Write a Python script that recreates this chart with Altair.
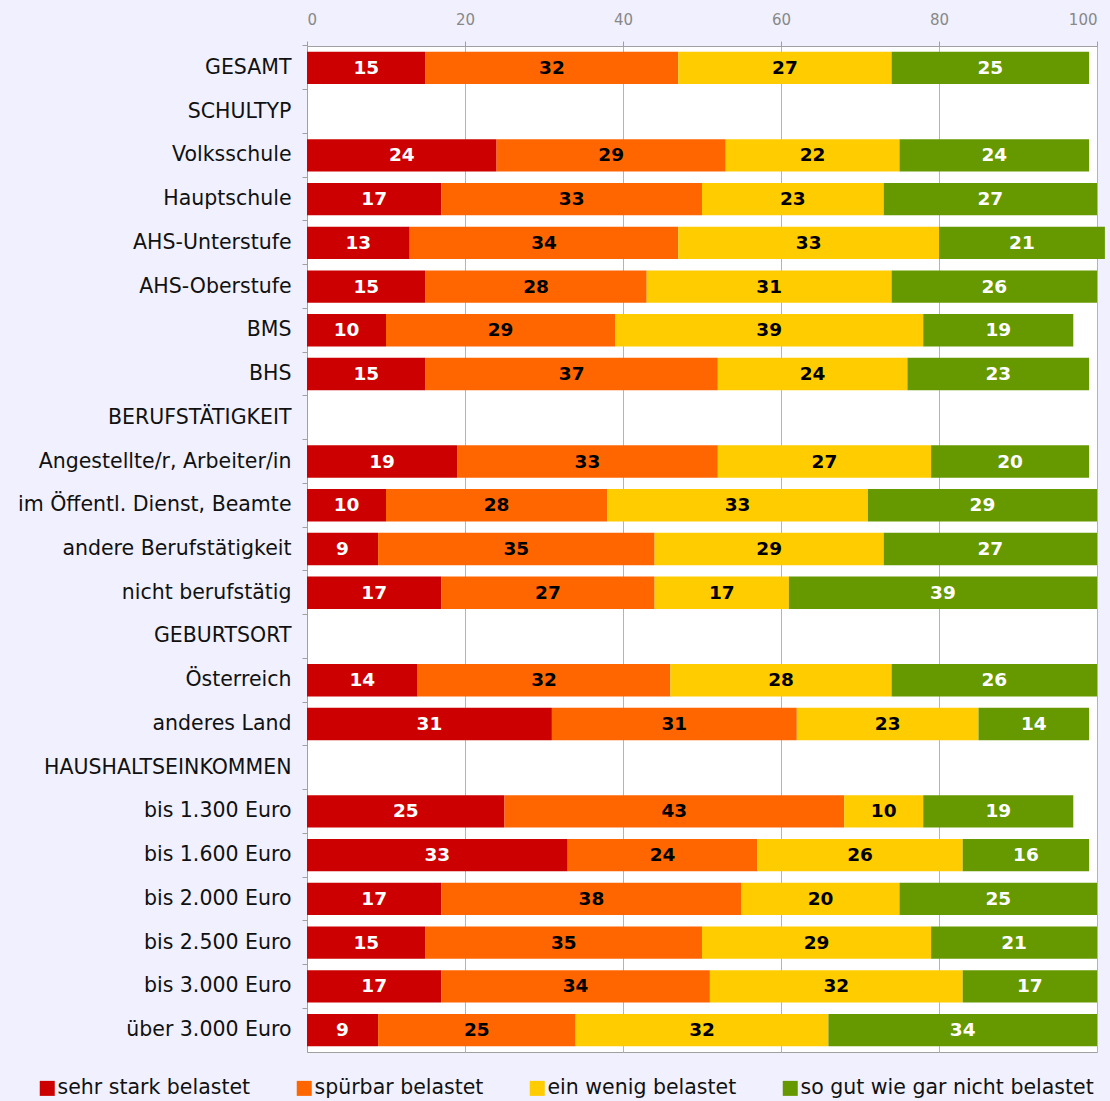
import altair as alt
import pandas as pd
import jinja2

categories = [
    "GESAMT", "SCHULTYP", "Volksschule", "Hauptschule", "AHS-Unterstufe",
    "AHS-Oberstufe", "BMS", "BHS", "BERUFSTÄTIGKEIT",
    "Angestellte/r, Arbeiter/in", "im Öffentl. Dienst, Beamte",
    "andere Berufstätigkeit", "nicht berufstätig", "GEBURTSORT",
    "Österreich", "anderes Land", "HAUSHALTSEINKOMMEN", "bis 1.300 Euro",
    "bis 1.600 Euro", "bis 2.000 Euro", "bis 2.500 Euro", "bis 3.000 Euro",
    "über 3.000 Euro",
]

bar_rows = [
    "GESAMT", "Volksschule", "Hauptschule", "AHS-Unterstufe", "AHS-Oberstufe",
    "BMS", "BHS", "Angestellte/r, Arbeiter/in", "im Öffentl. Dienst, Beamte",
    "andere Berufstätigkeit", "nicht berufstätig", "Österreich", "anderes Land",
    "bis 1.300 Euro", "bis 1.600 Euro", "bis 2.000 Euro", "bis 2.500 Euro",
    "bis 3.000 Euro", "über 3.000 Euro",
]

series = ["sehr stark belastet", "spürbar belastet", "ein wenig belastet",
          "so gut wie gar nicht belastet"]
colors = ["#CC0000", "#FF6600", "#FFCC00", "#669900"]

sehr_stark = [15, 24, 17, 13, 15, 10, 15, 19, 10, 9, 17, 14, 31, 25, 33, 17, 15, 17, 9]
spuerbar = [32, 29, 33, 34, 28, 29, 37, 33, 28, 35, 27, 32, 31, 43, 24, 38, 35, 34, 25]
ein_wenig = [27, 22, 23, 33, 31, 39, 24, 27, 33, 29, 17, 28, 23, 10, 26, 20, 29, 32, 32]
gar_nicht = [25, 24, 27, 21, 26, 19, 23, 20, 29, 27, 39, 26, 14, 19, 16, 25, 21, 17, 34]

x_ticks = [0, 20, 40, 60, 80, 100]

values = [sehr_stark, spuerbar, ein_wenig, gar_nicht]
records = []
for i, name in enumerate(bar_rows):
    for j, s in enumerate(series):
        records.append({"row": name, "series": s, "order": j, "value": values[j][i]})
df = pd.DataFrame(records)

FONT = "DejaVu Sans"
BG = "#F0F0FE"

y_enc = alt.Y(
    "row:N",
    scale=alt.Scale(domain=categories, paddingInner=0.26, paddingOuter=0.13),
    axis=alt.Axis(
        title=None, labelFontSize=20.5, labelColor="#111111", labelPadding=11,
        tickSize=5, tickColor="#A0A0A0", domainColor="#A0A0A0",
        bandPosition=-0.1757, labelLimit=400,
    ),
)

base = alt.Chart(df).transform_stack(
    stack="value", groupby=["row"], as_=["x0", "x1"],
    sort=[alt.SortField("order", order="ascending")],
).transform_calculate(mid="(datum.x0 + datum.x1) / 2")

bars = base.mark_bar(clip=False).encode(
    x=alt.X(
        "x0:Q",
        scale=alt.Scale(domain=[0, 100], nice=False, zero=True),
        axis=alt.Axis(
            orient="top", values=x_ticks, title=None, grid=True,
            gridColor="#B4B4B4", domainColor="#A0A0A0", tickColor="#A0A0A0",
            tickSize=5, labelColor="#888888", labelFontSize=15,
            labelPadding=14,
        ),
    ),
    x2="x1:Q",
    y=y_enc,
    color=alt.Color(
        "series:N",
        scale=alt.Scale(domain=series, range=colors),
        legend=alt.Legend(
            title=None, orient="none", direction="horizontal",
            legendX=-270, legendY=1032, symbolType="square", symbolSize=225,
            symbolStrokeWidth=0, symbolOpacity=1, labelFontSize=20.5,
            labelColor="#111111", labelOffset=0, columnPadding=43,
            padding=0, labelLimit=400,
        ),
    ),
    order=alt.Order("order:Q"),
)

text = base.mark_text(font=FONT, fontWeight="bold", fontSize=18.5).encode(
    x="mid:Q",
    y=alt.Y("row:N", scale=alt.Scale(domain=categories)),
    text="value:Q",
    color=alt.condition("datum.order == 0 || datum.order == 3",
                        alt.value("white"), alt.value("black")),
)

chart = alt.layer(bars, text).properties(
    width=790, height=1006,
    padding={"left": 17, "top": 12, "right": 0, "bottom": 0},
    background=BG,
).configure(font=FONT).configure_view(fill="white", stroke="#A0A0A0")

PAGE = jinja2.Template("""<!DOCTYPE html>
<html>
<head>
  <meta charset="utf-8">
  <style>
    html, body { margin: 0; padding: 0; overflow: hidden; background: """ + BG + """; }
    #{{ output_div }}.vega-embed { width: 100%; display: flex; }
  </style>
  <script type="text/javascript" src="{{ base_url }}/vega@{{ vega_version }}"></script>
  <script type="text/javascript" src="{{ base_url }}/vega-lite@{{ vegalite_version }}"></script>
  <script type="text/javascript" src="{{ base_url }}/vega-embed@{{ vegaembed_version }}"></script>
</head>
<body>
  <div id="{{ output_div }}"></div>
  <script type="text/javascript">
    (function(spec, embedOpt){
      const el = document.getElementById("{{ output_div }}");
      vegaEmbed(el, spec, embedOpt).catch(function(err){ el.innerHTML = '<pre>' + err + '</pre>'; });
    })({{ spec }}, {{ embed_options }});
  </script>
</body>
</html>""")

chart.save("out.html", embed_options={"renderer": "svg", "actions": False}, template=PAGE)
